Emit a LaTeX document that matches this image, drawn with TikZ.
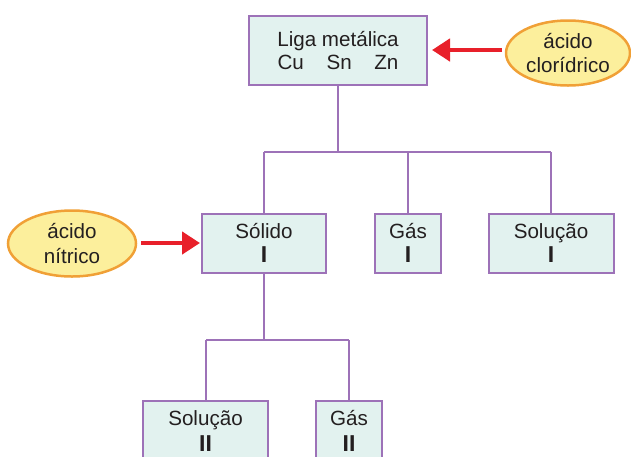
\documentclass[tikz,border=0pt]{standalone}
\usepackage{fontspec}
\setmainfont{Liberation Sans}
\usetikzlibrary{arrows.meta,shapes.geometric}
\definecolor{boxfill}{HTML}{E2F2EF}
\definecolor{boxline}{HTML}{9D72B8}
\definecolor{ellfill}{HTML}{FCEF9C}
\definecolor{ellline}{HTML}{F0A036}
\definecolor{arrred}{HTML}{E8202A}
\definecolor{txt}{HTML}{231F20}
\newcommand{\numeral}[1]{{\fontsize{23}{24}\selectfont\bfseries #1}}
\begin{document}
\begin{tikzpicture}[x=1pt,y=-1pt,
  box/.style={draw=boxline,fill=boxfill,line width=2pt,inner sep=0pt,text=txt,align=center,
    font=\fontsize{20.6}{24}\selectfont},
  lbl/.style={text=txt,align=center,inner sep=0pt,font=\fontsize{20.6}{26}\selectfont},
  ell/.style={ellipse,draw=ellline,fill=ellfill,line width=2.5pt,inner sep=0pt,text=txt,align=center,
    font=\fontsize{20.6}{24.5}\selectfont},
  conn/.style={draw=boxline,line width=1.6pt},
  redarrow/.style={draw=arrred,line width=4.5pt,-{Triangle[length=18pt,width=22pt]}}]
\useasboundingbox (0,0) rectangle (631,456);
\clip (0,0) rectangle (631,456);
% boxes
\node[box,minimum width=178pt,minimum height=69pt,font=\fontsize{20.6}{23}\selectfont] (liga) at (338,50.5) {Liga metálica\\Cu\hspace{1.1em}Sn\hspace{1.1em}Zn};
\node[box,minimum width=124pt,minimum height=59pt] (solido) at (264,243) {Sólido\\\numeral{I}};
\node[box,minimum width=66pt,minimum height=59pt] (gas1) at (408,243) {Gás\\\numeral{I}};
\node[box,minimum width=125pt,minimum height=59pt] (sol1) at (551,243) {Solução\\\numeral{I}};
\node[box,minimum width=125pt,minimum height=80pt,anchor=north] (sol2) at (205.5,400) {};
\node[box,minimum width=66pt,minimum height=80pt,anchor=north] (gas2) at (349,400) {};
\node[lbl,anchor=base] (sol2t) at (205.5,451) {Solução\\\numeral{II}};
\node[lbl,anchor=base] (gas2t) at (349,451) {Gás\\\numeral{II}};
% ellipses
\node[ell,minimum width=124pt,minimum height=65pt] (clor) at (568,53) {ácido\\clorídrico};
\node[ell,minimum width=128pt,minimum height=66pt] (nitr) at (72,243.5) {ácido\\nítrico};
% tree connectors
\coordinate (j1) at (338,152);
\coordinate (j1l) at (264,152);
\coordinate (j1m) at (408,152);
\coordinate (j1r) at (551,152);
\draw[conn] (liga.south) -- (j1);
\draw[conn] (j1l) -- (j1r);
\draw[conn] (j1l) -- (solido.north);
\draw[conn] (j1m) -- (gas1.north);
\draw[conn] (j1r) -- (sol1.north);
\coordinate (j2) at (264,340);
\coordinate (j2l) at (206,340);
\coordinate (j2r) at (349,340);
\draw[conn] (solido.south) -- (j2);
\draw[conn] (j2l) -- (j2r);
\draw[conn] (j2l) -- (j2l |- sol2.north);
\draw[conn] (j2r) -- (gas2.north);
% red arrows
\coordinate (a1s) at (502,50);
\coordinate (a1e) at (432,50);
\draw[redarrow] (a1s) -- (a1e);
\coordinate (a2s) at (141,243);
\coordinate (a2e) at (200,243);
\draw[redarrow] (a2s) -- (a2e);
\end{tikzpicture}
\end{document}
